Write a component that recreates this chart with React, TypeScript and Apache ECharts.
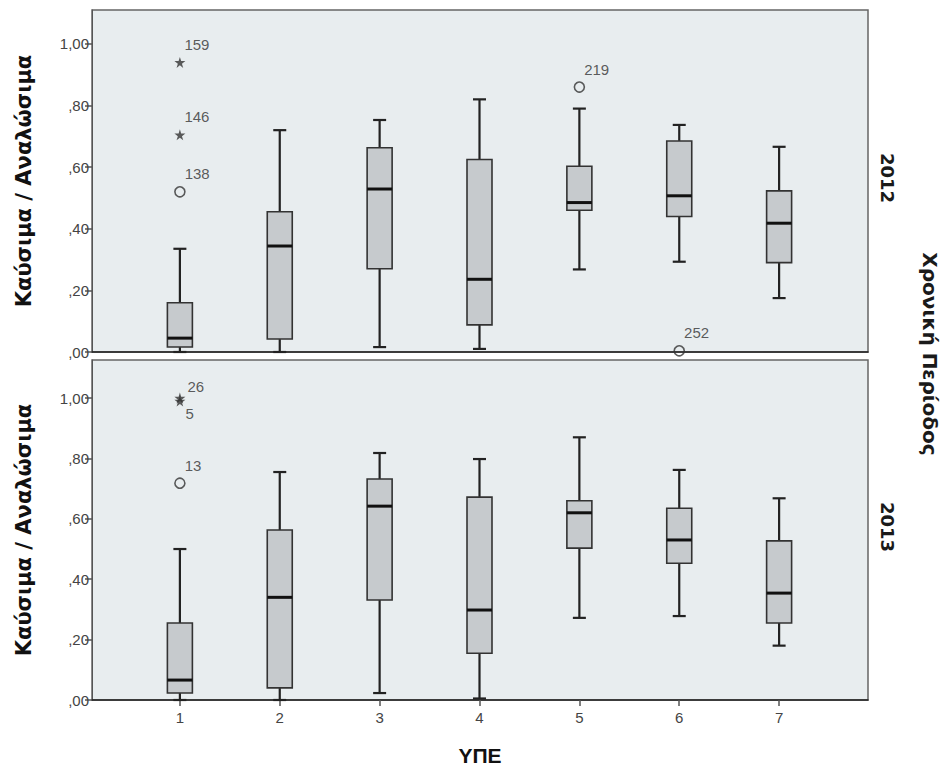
import React, { useEffect, useRef } from "react";
import * as echarts from "echarts";

// ---- data ----
const categories = [1, 2, 3, 4, 5, 6, 7];
const periods = ["2012", "2013"];
const yTickValues = [0, 0.2, 0.4, 0.6, 0.8, 1.0];
const yTickLabels = [",00", ",20", ",40", ",60", ",80", "1,00"];

// [min, Q1, median, Q3, max] per ΥΠΕ
const box2012 = [
  [0.0, 0.016, 0.045, 0.16, 0.335],
  [0.0, 0.042, 0.344, 0.455, 0.72],
  [0.016, 0.27, 0.529, 0.663, 0.753],
  [0.01, 0.088, 0.236, 0.625, 0.82],
  [0.268, 0.46, 0.485, 0.603, 0.79],
  [0.293, 0.44, 0.507, 0.685, 0.737],
  [0.175, 0.29, 0.418, 0.523, 0.666],
];
const box2013 = [
  [0.0, 0.023, 0.066, 0.255, 0.5],
  [0.0, 0.04, 0.34, 0.563, 0.755],
  [0.023, 0.331, 0.642, 0.732, 0.818],
  [0.005, 0.155, 0.298, 0.672, 0.798],
  [0.272, 0.503, 0.62, 0.66, 0.87],
  [0.278, 0.453, 0.53, 0.635, 0.762],
  [0.18, 0.255, 0.354, 0.527, 0.668],
];

// outliers: [ΥΠΕ, value, case id]
const circles2012 = [
  [1, 0.52, "138"],
  [5, 0.86, "219"],
  [6, 0.004, "252"],
];
const stars2012 = [
  [1, 0.94, "159"],
  [1, 0.705, "146"],
];
const circles2013 = [[1, 0.718, "13"]];
const stars2013 = [
  [1, 1.0, "26"],
  [1, 0.99, "5"],
];

// label offsets for crowded ids (style only)
const labelOffsets: Record<string, number[]> = {
  "26": [2, -12],
  "5": [0, 12],
};

const STAR =
  "path://M50,0 L61,35 L98,35 L68,57 L79,91 L50,70 L21,91 L32,57 L2,35 L39,35 Z";

const tickFont = "'Liberation Sans', Arial, sans-serif";
const titleFont = "'DejaVu Sans', Verdana, sans-serif";

function renderBox(params: any, api: any) {
  const x = api.value(0);
  const pMin = api.coord([x, api.value(1)]);
  const pQ1 = api.coord([x, api.value(2)]);
  const pMed = api.coord([x, api.value(3)]);
  const pQ3 = api.coord([x, api.value(4)]);
  const pMax = api.coord([x, api.value(5)]);
  const cx = pMed[0];
  const bw = 25;
  const cw = 13;
  const wStyle = { stroke: "#222", lineWidth: 2.2 };
  return {
    type: "group",
    children: [
      { type: "line", shape: { x1: cx, y1: pMin[1], x2: cx, y2: pQ1[1] }, style: wStyle },
      { type: "line", shape: { x1: cx, y1: pQ3[1], x2: cx, y2: pMax[1] }, style: wStyle },
      { type: "line", shape: { x1: cx - cw / 2, y1: pMin[1], x2: cx + cw / 2, y2: pMin[1] }, style: wStyle },
      { type: "line", shape: { x1: cx - cw / 2, y1: pMax[1], x2: cx + cw / 2, y2: pMax[1] }, style: wStyle },
      {
        type: "rect",
        shape: { x: cx - bw / 2, y: pQ3[1], width: bw, height: pQ1[1] - pQ3[1] },
        style: { fill: "#c6cacd", stroke: "#333", lineWidth: 1.6 },
      },
      {
        type: "line",
        shape: { x1: cx - bw / 2, y1: pMed[1], x2: cx + bw / 2, y2: pMed[1] },
        style: { stroke: "#111", lineWidth: 3 },
      },
    ],
  };
}

function outlierSeries(data: any[], gridIdx: number, kind: "circle" | "star") {
  return {
    type: "scatter",
    xAxisIndex: gridIdx,
    yAxisIndex: gridIdx,
    symbol: kind === "circle" ? "circle" : STAR,
    symbolSize: kind === "circle" ? 10 : 11,
    itemStyle:
      kind === "circle"
        ? { color: "rgba(0,0,0,0)", borderColor: "#333", borderWidth: 1.6 }
        : { color: "#333" },
    data: data.map((d) => ({
      value: [d[0], d[1]],
      name: d[2],
      label: { offset: labelOffsets[d[2]] || [-1, -18] },
    })),
    label: {
      show: true,
      position: "right",
      distance: 0,
      formatter: (p: any) => p.name,
      color: "#333",
      fontSize: 15,
      fontFamily: tickFont,
    },
    z: 5,
  };
}

const grids = [
  { left: 92, top: 10, width: 776, height: 342 },
  { left: 92, top: 360, width: 776, height: 340 },
];
const yMax = [1.11, 1.126];

export default function App() {
  const ref = useRef<HTMLDivElement>(null);
  useEffect(() => {
    if (!ref.current) return;
    const chart = echarts.init(ref.current, null, { renderer: "svg" });
    const xAxes = grids.map((_, i) => ({
      type: "value",
      gridIndex: i,
      min: 0.12,
      max: 7.89,
      splitLine: { show: false },
      axisLine: { show: true, onZero: false, lineStyle: { color: "#222", width: 1.5 } },
      axisTick: {
        show: i === 1,
        customValues: categories,
        length: 6,
        lineStyle: { color: "#555", width: 1.5 },
      },
      axisLabel: {
        show: i === 1,
        customValues: categories,
        color: "#444",
        fontSize: 15,
        fontFamily: tickFont,
        margin: 10,
      },
      name: i === 1 ? "ΥΠΕ" : "",
      nameLocation: "middle",
      nameGap: 45,
      nameTextStyle: { fontSize: 21, fontWeight: "bold", color: "#111", fontFamily: tickFont },
    }));
    const yAxes = grids.map((_, i) => ({
      type: "value",
      gridIndex: i,
      min: 0,
      max: yMax[i],
      splitLine: { show: false },
      axisLine: { show: true, lineStyle: { color: "#555", width: 1 } },
      axisTick: {
        show: true,
        customValues: yTickValues,
        length: 7,
        lineStyle: { color: "#555", width: 1.5 },
      },
      axisLabel: {
        customValues: yTickValues,
        formatter: (v: number) => {
          const k = yTickValues.findIndex((t) => Math.abs(t - v) < 1e-6);
          return k >= 0 ? yTickLabels[k] : "";
        },
        color: "#444",
        fontSize: 15,
        fontFamily: tickFont,
        margin: 3,
      },
      name: "Καύσιμα / Αναλώσιμα",
      nameLocation: "middle",
      nameGap: 58,
      nameRotate: 90,
      nameTextStyle: { fontSize: 21, fontWeight: "bold", color: "#111", fontFamily: titleFont },
    }));
    const boxes = [box2012, box2013];
    const series: any[] = [];
    boxes.forEach((b, i) => {
      series.push({
        type: "custom",
        xAxisIndex: i,
        yAxisIndex: i,
        renderItem: renderBox,
        encode: { x: 0, y: [1, 2, 3, 4, 5] },
        data: categories.map((c, k) => [c, ...b[k]]),
        z: 3,
      });
    });
    series.push(outlierSeries(circles2012, 0, "circle"));
    series.push(outlierSeries(stars2012, 0, "star"));
    series.push(outlierSeries(circles2013, 1, "circle"));
    series.push(outlierSeries(stars2013, 1, "star"));

    const sideText = (text: string, x: number, y: number, size: number) => ({
      type: "text",
      x,
      y,
      rotation: -Math.PI / 2,
      style: {
        text,
        textAlign: "center",
        textVerticalAlign: "middle",
        fontSize: size,
        fontWeight: "bold",
        fontFamily: titleFont,
        fill: "#1a1a1a",
      },
    });

    chart.setOption({
      animation: false,
      backgroundColor: "#ffffff",
      grid: grids.map((g) => ({
        ...g,
        show: true,
        backgroundColor: "#e8edef",
        borderColor: "#666",
        borderWidth: 1.5,
      })),
      xAxis: xAxes,
      yAxis: yAxes,
      series,
      graphic: [
        sideText(periods[0], 887, 178, 18),
        sideText(periods[1], 887, 527, 18),
        sideText("Χρονική Περίοδος", 930, 354, 20),
      ],
    });
    return () => chart.dispose();
  }, []);
  return (
    <div
      ref={ref}
      style={{ position: "fixed", left: 0, top: 0, width: 948, height: 773 }}
    />
  );
}
